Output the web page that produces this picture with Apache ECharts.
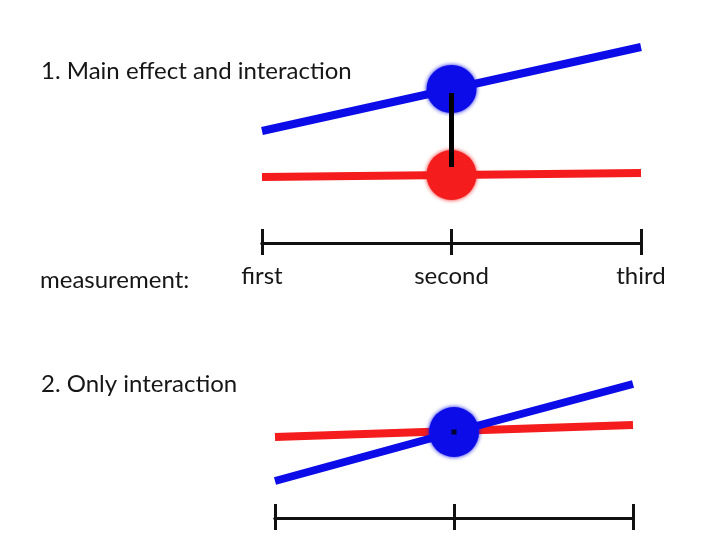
<!DOCTYPE html>
<html>
<head>
<meta charset="utf-8">
<script src="https://cdn.jsdelivr.net/npm/echarts@6/dist/echarts.min.js"></script>
<style>
  html, body { margin: 0; padding: 0; background: #fff; }
  #chart { width: 720px; height: 539px; }
</style>
</head>
<body>
<div id="chart"></div>
<script>
// measurement points on the x axis
var measurements = ['first', 'second', 'third'];

// panel 1: main effect and interaction
var mainBlue = [56, 77, 98];
var mainRed = [33, 34, 35];
var mainMidBlue = 77;
var mainMidRed = 34;
var mainLink = [75, 38];

// panel 2: only interaction
var interBlue = [18.5, 43, 67];
var interRed = [40.5, 43.5, 46.5];
var interMid = 43;

var BLUE = '#0c0ce8';
var RED = '#f41c1c';
var FONT = 'Lato';
var TXT = '#161616';

var chart = echarts.init(document.getElementById('chart'));

function bottomAxis(grid, showLabel, inside) {
    return {
        type: 'category',
        gridIndex: grid,
        data: measurements,
        boundaryGap: false,
        position: 'bottom',
        axisLine: { show: true, lineStyle: { color: '#111', width: 3 } },
        axisTick: { show: true, inside: inside, length: inside ? 14 : 12, lineStyle: { color: '#111', width: 3 } },
        axisLabel: { show: showLabel, margin: 21, color: TXT, fontSize: 24, fontFamily: FONT },
        splitLine: { show: false }
    };
}

function lineSeries(x, data, color) {
    return {
        type: 'line',
        xAxisIndex: x, yAxisIndex: x < 2 ? 0 : 1,
        data: data,
        symbol: 'none',
        lineStyle: { color: color, width: 8 },
        z: 2
    };
}

function dot(x, y, color, size) {
    return {
        type: 'scatter',
        xAxisIndex: x, yAxisIndex: x < 2 ? 0 : 1,
        data: [['second', y]],
        symbolSize: size,
        itemStyle: { color: color, opacity: 1, shadowBlur: 4, shadowColor: color },
        z: 3
    };
}

var option = {
    animation: false,
    backgroundColor: '#fff',
    title: [
        { text: '1. Main effect and interaction', left: 36, top: 54,
          textStyle: { fontFamily: FONT, fontSize: 24, fontWeight: 'normal', color: TXT } },
        { text: 'measurement:', left: 35, top: 263,
          textStyle: { fontFamily: FONT, fontSize: 24, fontWeight: 'normal', color: TXT } },
        { text: '2. Only interaction', left: 36, top: 367,
          textStyle: { fontFamily: FONT, fontSize: 24, fontWeight: 'normal', color: TXT } }
    ],
    grid: [
        { left: 262, right: 79, top: 43, height: 200 },
        { left: 275, right: 87, top: 318, height: 200 }
    ],
    xAxis: [
        bottomAxis(0, true, false),
        bottomAxis(0, false, true),
        bottomAxis(1, false, false),
        bottomAxis(1, false, true)
    ],
    yAxis: [
        { type: 'value', gridIndex: 0, min: 0, max: 100, show: false },
        { type: 'value', gridIndex: 1, min: 0, max: 100, show: false }
    ],
    series: [
        lineSeries(0, mainRed, RED),
        lineSeries(0, mainBlue, BLUE),
        dot(0, mainMidRed, RED, [50, 50]),
        dot(0, mainMidBlue, BLUE, [50, 48]),
        {
            type: 'line',
            xAxisIndex: 0, yAxisIndex: 0,
            data: [['second', mainLink[0]], ['second', mainLink[1]]],
            symbol: 'none',
            lineStyle: { color: '#000', width: 5 },
            z: 5
        },
        lineSeries(2, interRed, RED),
        lineSeries(2, interBlue, BLUE),
        dot(2, interMid, BLUE, [50, 50]),
        {
            type: 'scatter',
            xAxisIndex: 2, yAxisIndex: 1,
            data: [['second', interMid]],
            symbol: 'rect',
            symbolSize: 5,
            itemStyle: { color: '#000' },
            z: 5
        }
    ]
};

chart.setOption(option);
window.addEventListener('resize', chart.resize);
</script>
</body>
</html>
